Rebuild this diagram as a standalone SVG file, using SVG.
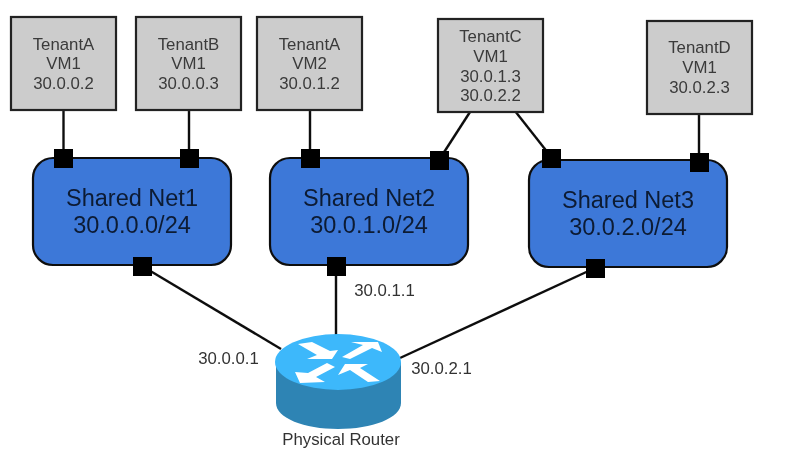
<svg xmlns="http://www.w3.org/2000/svg" width="793" height="466" viewBox="0 0 793 466">
<style>
text{font-family:"Liberation Sans",Arial,sans-serif;text-anchor:middle}
.vm rect{fill:#cccccc;stroke:#222;stroke-width:2.2}
.vm text{font-size:16.800px;fill:#3a3a3a}
.net rect{fill:#3c78d8;stroke:#111;stroke-width:2.2}
.net text{font-size:23.500px;fill:#0d1a33}
.lbl{font-size:16.800px;fill:#333}
#connectors line{stroke:#111;stroke-width:2.4}
.port{fill:#000}
</style>
<defs><filter id="soft" filterUnits="userSpaceOnUse" x="0" y="0" width="793" height="466"><feGaussianBlur stdDeviation="0.5"/></filter></defs>
<rect width="793" height="466" fill="#fff"/>
<g filter="url(#soft)">
<g id="connectors">
<line x1="63.500" y1="110" x2="63.500" y2="158"/>
<line x1="189" y1="110" x2="189" y2="158"/>
<line x1="310" y1="110" x2="310" y2="158"/>
<line x1="470" y1="112" x2="439" y2="160"/>
<line x1="515" y1="111" x2="552" y2="158"/>
<line x1="699" y1="113" x2="699" y2="162"/>
<line x1="142" y1="266" x2="281" y2="349"/>
<line x1="336" y1="266" x2="336" y2="335"/>
<line x1="595" y1="268" x2="400" y2="358"/>
</g>
<g id="vm-a1" class="vm"><rect x="11" y="17" width="105" height="93"/><text x="63.500" y="50">TenantA</text><text x="63.500" y="69">VM1</text><text x="63.500" y="89">30.0.0.2</text></g>
<g id="vm-b1" class="vm"><rect x="136" y="17" width="105" height="93"/><text x="188.500" y="50">TenantB</text><text x="188.500" y="69">VM1</text><text x="188.500" y="89">30.0.0.3</text></g>
<g id="vm-a2" class="vm"><rect x="257" y="17" width="105" height="93"/><text x="309.500" y="50">TenantA</text><text x="309.500" y="69">VM2</text><text x="309.500" y="89">30.0.1.2</text></g>
<g id="vm-c1" class="vm"><rect x="438" y="19" width="105" height="93"/><text x="490.500" y="42">TenantC</text><text x="490.500" y="62">VM1</text><text x="490.500" y="82">30.0.1.3</text><text x="490.500" y="101">30.0.2.2</text></g>
<g id="vm-d1" class="vm"><rect x="647" y="21" width="105" height="93"/><text x="699.500" y="53">TenantD</text><text x="699.500" y="73">VM1</text><text x="699.500" y="93">30.0.2.3</text></g>
<g id="net1" class="net"><rect x="33" y="158" width="198" height="107" rx="20"/><text x="132" y="205.500">Shared Net1</text><text x="132" y="233">30.0.0.0/24</text></g>
<g id="net2" class="net"><rect x="270" y="158" width="198" height="107" rx="20"/><text x="369" y="205.500">Shared Net2</text><text x="369" y="233">30.0.1.0/24</text></g>
<g id="net3" class="net"><rect x="529" y="160" width="198" height="107" rx="20"/><text x="628" y="207.500">Shared Net3</text><text x="628" y="235">30.0.2.0/24</text></g>
<g id="ports">
<rect class="port" x="54" y="149" width="19" height="19"/>
<rect class="port" x="180" y="149" width="19" height="19"/>
<rect class="port" x="301" y="149" width="19" height="19"/>
<rect class="port" x="430" y="151" width="19" height="19"/>
<rect class="port" x="542" y="149" width="19" height="19"/>
<rect class="port" x="690" y="153" width="19" height="19"/>
<rect class="port" x="133" y="257" width="19" height="19"/>
<rect class="port" x="327" y="257" width="19" height="19"/>
<rect class="port" x="586" y="259" width="19" height="19"/>
</g>
<g id="router">
<path d="M276 362V403C276 418 304 429 338 429S401 418 401 403V362Z" fill="#2e84b4"/>
<ellipse cx="338" cy="362" rx="63" ry="28" fill="#3db8fb"/>
<path d="M298 344L312 342L330 351L338 350L332 359L307 359L317 355Z" fill="#fff"/>
<path d="M342 357L363 345L351 342L378 342L382 352L372 348L350 359Z" fill="#fff"/>
<path d="M295 372L308 373L327 363L335 367L316 377L325 382L300 383Z" fill="#fff"/>
<path d="M338 375L345 364L368 364L360 368L380 381L368 382L350 370Z" fill="#fff"/>
</g>
<text class="lbl" x="384.500" y="296">30.0.1.1</text>
<text class="lbl" x="228.500" y="364">30.0.0.1</text>
<text class="lbl" x="441.500" y="374">30.0.2.1</text>
<text class="lbl" x="341" y="445">Physical Router</text>
</g>
</svg>
